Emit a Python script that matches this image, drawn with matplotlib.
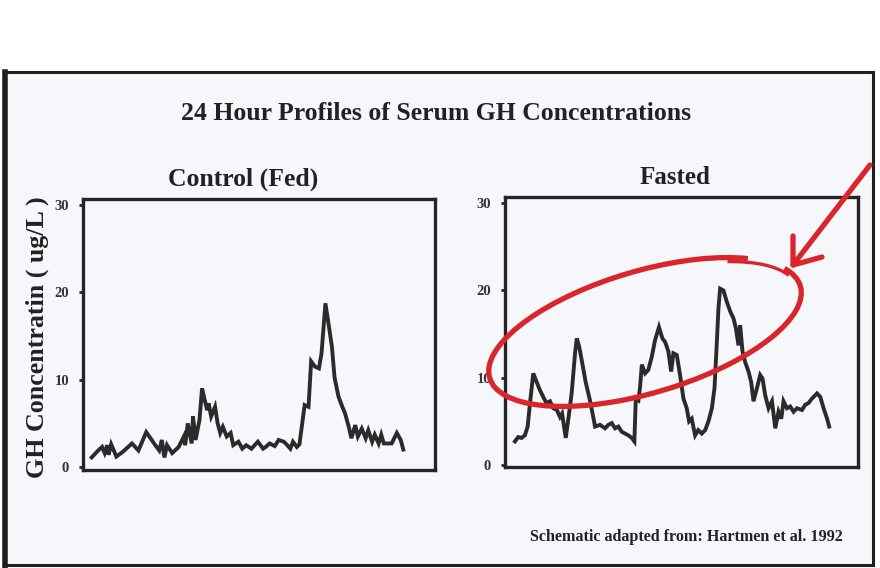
import matplotlib
matplotlib.use("Agg")
import matplotlib.pyplot as plt
from matplotlib.patches import Rectangle, Arc
from matplotlib.lines import Line2D

# ---------------- data (hours, GH ug/L) ----------------
fed_hours = [0.0, 0.5, 0.8, 1.0, 1.2, 1.3, 1.5, 1.9, 2.4, 3.1, 3.6, 4.2, 4.9, 5.2, 5.4, 5.6,
             5.8, 6.2, 6.7, 7.1, 7.2, 7.4, 7.7, 7.8, 8.0, 8.3, 8.5, 8.7, 8.9, 9.0, 9.2, 9.5,
             9.7, 9.9, 10.1, 10.4, 10.7, 10.9, 11.3, 11.6, 11.9, 12.3, 12.8, 13.2, 13.4, 13.7,
             14.1, 14.4, 14.8, 15.0, 15.3, 15.5, 15.8, 16.0, 16.4, 16.7, 16.9, 17.2, 17.5, 17.7,
             18.0, 18.2, 18.5, 18.7, 19.0, 19.3, 19.5, 19.8, 20.0, 20.3, 20.5, 20.8, 21.1, 21.3,
             21.6, 21.8, 22.1, 22.3, 22.5, 23.1, 23.5, 23.8, 24.0]
fed_gh = [1.1, 1.9, 2.3, 1.6, 2.5, 1.4, 2.6, 1.2, 1.75, 2.7, 1.9, 4.0, 2.5, 1.9, 3.1, 1.1,
          2.5, 1.6, 2.3, 3.5, 2.5, 5.0, 2.7, 5.8, 3.1, 5.4, 9.0, 7.7, 6.5, 7.3, 5.8, 6.9,
          5.0, 3.9, 4.6, 3.5, 3.9, 2.5, 2.9, 2.1, 2.5, 2.1, 2.9, 2.1, 2.3, 2.7,
          2.4, 3.1, 2.9, 2.6, 2.1, 2.9, 2.3, 2.6, 7.1, 6.9, 12.1, 11.5, 11.3, 13.0,
          18.75, 16.8, 13.8, 10.3, 8.1, 6.9, 6.2, 4.6, 3.3, 4.8, 3.5, 4.4, 3.3, 4.2,
          2.9, 3.7, 2.7, 3.7, 2.7, 2.7, 3.9, 3.1, 2.0]

fasted_hours = [0.0, 0.25, 0.5, 0.76, 0.97, 1.15, 1.4, 1.66, 1.9, 2.16, 2.4, 2.68, 2.93, 3.2,
                3.44, 3.6, 3.88, 4.07, 4.33, 4.59, 4.72, 4.9, 5.15, 5.4, 5.73, 5.9, 6.12, 6.5,
                6.88, 7.13, 7.39, 7.65, 7.9, 8.16, 8.41, 8.66, 8.92, 9.12, 9.23, 9.43, 9.56,
                9.69, 9.94, 10.19, 10.45, 10.7, 11.0, 11.26, 11.47, 11.72, 11.93, 12.1, 12.36,
                12.61, 12.87, 13.12, 13.3, 13.5, 13.76, 14.0, 14.27, 14.53, 14.78, 15.04, 15.24,
                15.42, 15.54, 15.67, 15.92, 16.18, 16.44, 16.69, 16.87, 17.07, 17.2, 17.38,
                17.58, 17.84, 18.04, 18.22, 18.48, 18.73, 18.91, 19.11, 19.37, 19.63, 19.88,
                20.13, 20.34, 20.51, 20.77, 21.02, 21.28, 21.54, 21.92, 22.17, 22.42, 22.68,
                23.07, 23.32, 23.57, 23.84, 24.0]
fasted_gh = [2.7, 3.2, 3.1, 3.4, 4.4, 7.1, 10.5, 9.5, 8.6, 7.8, 7.1, 7.3, 6.5, 6.3,
             5.5, 5.9, 3.1, 5.2, 8.2, 12.8, 14.5, 13.6, 11.6, 9.5, 7.4, 6.1, 4.4, 4.6,
             4.2, 4.6, 4.8, 4.2, 4.4, 3.8, 3.6, 3.4, 3.1, 2.7, 7.6, 7.4, 9.0,
             11.5, 10.5, 10.9, 12.4, 14.3, 15.8, 14.5, 14.1, 13.0, 10.7, 12.8, 12.6,
             10.3, 7.6, 6.5, 5.0, 5.3, 3.4, 4.0, 3.6, 4.0, 5.0, 6.5, 8.8,
             14.1, 17.9, 20.2, 20.0, 18.7, 17.6, 16.8, 15.7, 13.7, 16.0, 13.0,
             11.8, 10.7, 9.5, 7.3, 8.8, 10.3, 9.9, 8.0, 6.5, 7.3, 4.2,
             6.1, 5.3, 7.3, 6.5, 6.7, 6.1, 6.5, 6.3, 6.9, 7.1, 7.6,
             8.2, 7.8, 6.5, 5.3, 4.4]

y_ticks = [0, 10, 20, 30]
y_tick_labels = ["0", "10", "20", "30"]

title_text = "24 Hour Profiles of Serum GH Concentrations"
panel_titles = ["Control (Fed)", "Fasted"]
y_label = "GH Concentratin ( ug/L )"
source_text = "Schematic adapted from: Hartmen et al. 1992"

# ---------------- style ----------------
SERIF = ["Liberation Serif", "DejaVu Serif"]
LINE_C = "#2b2b2b"
FRAME_C = "#252525"
RED = "#d8262b"
SLIDE_BG = "#f6f7fa"
TEXT_C = "#222222"

W, H = 880, 568
fig = plt.figure(figsize=(W / 100, H / 100), dpi=100, facecolor="white")

def fx(px):
    return px / W

def fy(py):
    return 1 - py / H

# slide background and frame
fig.patches.append(Rectangle((fx(4), fy(565)), fx(869), (565 - 72) / H,
                             transform=fig.transFigure, facecolor=SLIDE_BG,
                             edgecolor="#1e1e1e", linewidth=2.2, zorder=-10))
fig.add_artist(Line2D([fx(4.5), fx(4.5)], [fy(72), fy(566)], transform=fig.transFigure,
                      color="#1e1e1e", linewidth=4.0, zorder=-9))

# axes
ax1 = fig.add_axes([fx(83), fy(470), fx(435 - 83), (470 - 199) / H])
ax2 = fig.add_axes([fx(505), fy(467), fx(858 - 505), (467 - 197) / H])

for ax, hrs, vals, xl, yl in [
    (ax1, fed_hours, fed_gh, (-0.67, 26.44), (-0.34, 30.7)),
    (ax2, fasted_hours, fasted_gh, (-0.76, 26.2), (-0.23, 30.7)),
]:
    ax.set_facecolor("none")
    ax.plot(hrs, vals, color=LINE_C, linewidth=2.8, solid_joinstyle="miter")
    ax.set_xlim(*xl)
    ax.set_ylim(*yl)
    ax.set_xticks([])
    ax.set_yticks(y_ticks)
    ax.set_yticklabels(y_tick_labels, fontfamily=SERIF, fontweight="bold", fontsize=10.5,
                       color="#333333")
    ax.tick_params(axis="y", direction="out", length=3, width=2, pad=7, color=FRAME_C)
    for s in ax.spines.values():
        s.set_linewidth(2.4)
        s.set_color(FRAME_C)

# texts
fig.text(fx(436), fy(113), title_text, ha="center", va="center", fontsize=18.5,
         fontweight="bold", fontfamily=SERIF, color=TEXT_C)
fig.text(fx(243), fy(179), panel_titles[0], ha="center", va="center", fontsize=18.5,
         fontweight="bold", fontfamily=SERIF, color=TEXT_C)
fig.text(fx(675), fy(177), panel_titles[1], ha="center", va="center", fontsize=18,
         fontweight="bold", fontfamily=SERIF, color=TEXT_C)
fig.text(fx(37), fy(337), y_label, ha="center", va="center", rotation=90, fontsize=18.7,
         fontweight="bold", fontfamily=SERIF, color=TEXT_C)
fig.text(fx(843), fy(537), source_text, ha="right", va="center", fontsize=11.6,
         fontweight="bold", fontfamily=SERIF, color=TEXT_C)

# red hand-drawn ellipse and arrow (annotation, in inch units = 100 px)
tr = fig.dpi_scale_trans
cx, cy = 6.45, (H - 332) / 100
fig.add_artist(Arc((cx, cy), 3.24, 1.22, angle=16.5, theta1=19, theta2=368,
                   transform=tr, color=RED, linewidth=3.8, zorder=6))
fig.add_artist(Arc((cx, cy), 3.17, 1.13, angle=16.5, theta1=5, theta2=24,
                   transform=tr, color=RED, linewidth=2.4, zorder=6))
tip = (7.93, (H - 265) / 100)
fig.add_artist(Line2D([8.70, tip[0]], [(H - 165) / 100, tip[1]], transform=tr,
                      color=RED, linewidth=3.8, solid_capstyle="round", zorder=6))
fig.add_artist(Line2D([7.93, tip[0], 8.22], [(H - 236) / 100, tip[1], (H - 257) / 100],
                      transform=tr, color=RED, linewidth=3.8, solid_capstyle="round",
                      solid_joinstyle="round", zorder=6))

fig.savefig("out.png", dpi=100, facecolor="white")
